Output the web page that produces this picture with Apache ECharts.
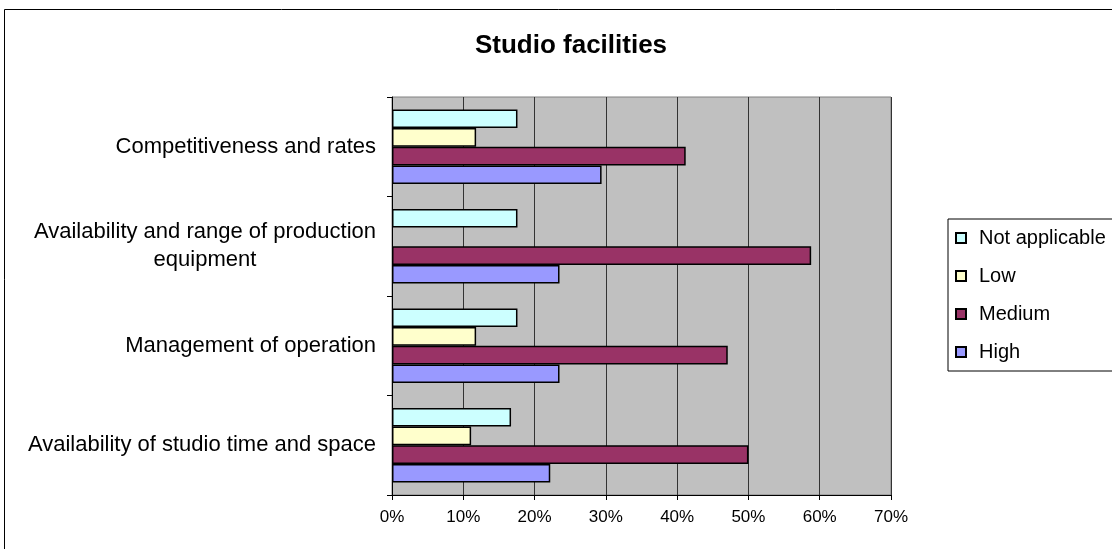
<!DOCTYPE html>
<html>
<head>
<meta charset="utf-8">
<script src="https://cdn.jsdelivr.net/npm/echarts@6/dist/echarts.min.js"></script>
<style>
  html, body { margin: 0; padding: 0; background: #fff; }
  #chart { width: 1112px; height: 549px; }
</style>
</head>
<body>
<div id="chart"></div>
<script>
// categories listed bottom to top (ECharts category y axis starts at the bottom)
const categories = [
  "Availability of studio time and space",
  "Management of operation",
  "Availability and range of production\nequipment",
  "Competitiveness and rates"
];
// null = no answer in that group, so no bar is drawn
const notApplicable = [16.7, 17.6, 17.6, 17.6];
const low = [11.1, 11.8, null, 11.8];
const medium = [50, 47.1, 58.8, 41.2];
const high = [22.2, 23.5, 23.5, 29.4];
const xTicks = [0, 10, 20, 30, 40, 50, 60, 70];

const font = "Liberation Sans, Arial, sans-serif";

function barSeries(name, data, color) {
  return {
    name,
    type: "bar",
    data,
    barGap: "0%",
    barCategoryGap: "25%",
    itemStyle: { color, borderColor: "#000", borderWidth: 1.5 },
  };
}

const chart = echarts.init(document.getElementById("chart"));
chart.setOption({
  animation: false,
  backgroundColor: "#fff",
  title: {
    text: "Studio facilities",
    left: 566,
    top: 28,
    textAlign: "center",
    textStyle: { fontFamily: font, fontSize: 26, fontWeight: "bold", color: "#000" },
  },
  graphic: [{
    type: "rect",
    shape: { x: 4.5, y: 9.5, width: 1200, height: 700 },
    style: { fill: "none", stroke: "#000", lineWidth: 1 },
    silent: true,
  }],
  legend: {
    orient: "vertical",
    left: 948,
    top: 219,
    padding: [8, 80, 8, 7],
    borderColor: "#000",
    borderWidth: 1,
    icon: "rect",
    itemWidth: 10,
    itemHeight: 10,
    itemGap: 16,
    data: ["Not applicable", "Low", "Medium", "High"],
    textStyle: { fontFamily: font, fontSize: 20, color: "#000", lineHeight: 22, padding: [0, 0, 0, 8] },
  },
  grid: {
    left: 392,
    right: 221,
    top: 97,
    bottom: 54,
    show: true,
    backgroundColor: "#c0c0c0",
    borderColor: "#808080",
    borderWidth: 1,
  },
  xAxis: {
    type: "value",
    min: xTicks[0],
    max: xTicks[xTicks.length - 1],
    interval: 10,
    axisLine: { show: true, lineStyle: { color: "#000" } },
    axisTick: { show: true, length: 5, lineStyle: { color: "#000" } },
    splitLine: { show: true, lineStyle: { color: "#333", width: 1 } },
    axisLabel: {
      formatter: "{value}%",
      fontFamily: font,
      fontSize: 17,
      color: "#000",
      margin: 14,
    },
  },
  yAxis: {
    type: "category",
    data: categories,
    axisLine: { show: true, lineStyle: { color: "#000" } },
    axisTick: { show: true, length: 5, lineStyle: { color: "#000" } },
    axisLabel: {
      margin: 16,
      fontFamily: font,
      fontSize: 22,
      color: "#000",
      lineHeight: 28,
      formatter: value => value.split("\n").map(line => `{c|${line}}`).join("\n"),
      rich: { c: { fontFamily: font, fontSize: 22, color: "#000", align: "center", lineHeight: 28 } },
    },
  },
  series: [
    barSeries("Not applicable", notApplicable, "#ccffff"),
    barSeries("Low", low, "#ffffcc"),
    barSeries("Medium", medium, "#993366"),
    barSeries("High", high, "#9999ff"),
  ],
});
</script>
</body>
</html>
